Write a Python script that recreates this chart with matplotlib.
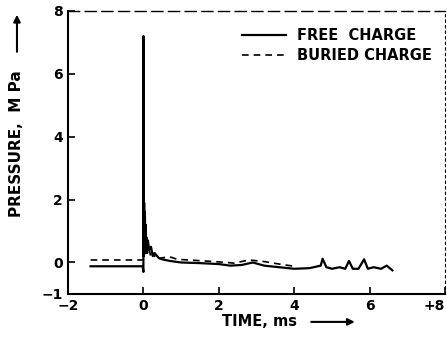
import matplotlib.pyplot as plt

# free charge trace (time ms, pressure MPa)
FREE_T = [-1.4, -0.02, 0.0, 0.0, 0.01, 0.02, 0.03, 0.04, 0.05, 0.06, 0.07, 0.08, 0.1, 0.12,
          0.15, 0.2, 0.25, 0.3, 0.4, 0.5, 0.7, 1.0, 1.5, 2.0, 2.3, 2.6, 2.9, 3.2, 3.6, 4.0,
          4.4, 4.7, 4.75, 4.85, 5.0, 5.2, 5.35, 5.45, 5.55, 5.7, 5.85, 5.95, 6.1, 6.3, 6.45, 6.6]
FREE_P = [-0.12, -0.12, -0.3, 7.2, 0.2, 1.9, 0.5, 1.6, 0.3, 1.2, 0.4, 0.8, 0.3, 0.7,
          0.4, 0.5, 0.2, 0.3, 0.15, 0.1, 0.05, 0.0, -0.02, -0.05, -0.1, -0.08, 0.0, -0.1, -0.15, -0.2,
          -0.18, -0.1, 0.12, -0.15, -0.2, -0.15, -0.2, 0.05, -0.2, -0.2, 0.1, -0.2, -0.15, -0.2, -0.1, -0.25]

# buried charge trace
BURIED_T = [-1.4, 0.0, 0.02, 0.05, 0.1, 0.15, 0.2, 0.25, 0.35, 0.5, 0.7, 0.9, 1.2, 1.6,
            2.0, 2.4, 2.8, 3.2, 3.6, 4.0]
BURIED_P = [0.08, 0.08, 0.2, 0.55, 0.3, 0.45, 0.15, 0.3, 0.1, 0.15, 0.18, 0.1, 0.08, 0.05,
            0.02, -0.02, 0.08, 0.03, -0.05, -0.12]

X_TICKS = [-2, 0, 2, 4, 6, 8]
X_LABELS = ['\u22122', '0', '2', '4', '6', '+8']
Y_TICKS = [-1, 0, 2, 4, 6, 8]
Y_LABELS = ['\u22121', '0', '2', '4', '6', '8']

plt.rcParams['font.family'] = 'DejaVu Sans'
plt.rcParams['font.weight'] = 'bold'

fig = plt.figure(figsize=(4.47, 3.41), dpi=100)
ax = fig.add_axes([0.152, 0.138, 0.844, 0.83])

ax.plot(FREE_T, FREE_P, color='black', lw=1.6, label='FREE  CHARGE')
ax.plot(BURIED_T, BURIED_P, color='black', lw=1.2, ls=(0, (4, 3)), label='BURIED CHARGE')

ax.set_xlim(-2, 8)
ax.set_ylim(-1, 8)
ax.set_xticks(X_TICKS)
ax.set_xticklabels(X_LABELS)
ax.set_yticks(Y_TICKS)
ax.set_yticklabels(Y_LABELS)
ax.tick_params(direction='in', length=5, width=1.2, labelsize=10)
for lab in ax.get_xticklabels() + ax.get_yticklabels():
    lab.set_fontweight('bold')
ax.get_xticklabels()[-1].set_horizontalalignment('right')

ax.spines['left'].set_linewidth(1.5)
ax.spines['bottom'].set_linewidth(1.5)
ax.spines['top'].set_linewidth(1.0)
ax.spines['top'].set_linestyle((0, (8, 4)))
ax.spines['right'].set_linewidth(0.8)
ax.spines['right'].set_linestyle((0, (2, 3)))

ax.legend(loc='upper right', frameon=False, handlelength=3.0, handletextpad=0.8,
          labelspacing=0.35, bbox_to_anchor=(1.0, 0.985),
          prop={'weight': 'bold', 'size': 10.5})

# axis labels with arrows
fig.text(0.038, 0.58, 'PRESSURE,  M Pa', rotation=90, ha='center', va='center',
         fontsize=11, fontweight='bold')
ax.annotate('', xy=(0.038, 0.965), xytext=(0.038, 0.84), xycoords='figure fraction',
            textcoords='figure fraction', annotation_clip=False,
            arrowprops=dict(arrowstyle='-|>', color='black', lw=1.5))
fig.text(0.58, 0.056, 'TIME, ms', ha='center', va='center', fontsize=10.5, fontweight='bold')
ax.annotate('', xy=(0.80, 0.056), xytext=(0.69, 0.056), xycoords='figure fraction',
            textcoords='figure fraction', annotation_clip=False,
            arrowprops=dict(arrowstyle='-|>', color='black', lw=1.5))

fig.savefig('out.png', dpi=100)
